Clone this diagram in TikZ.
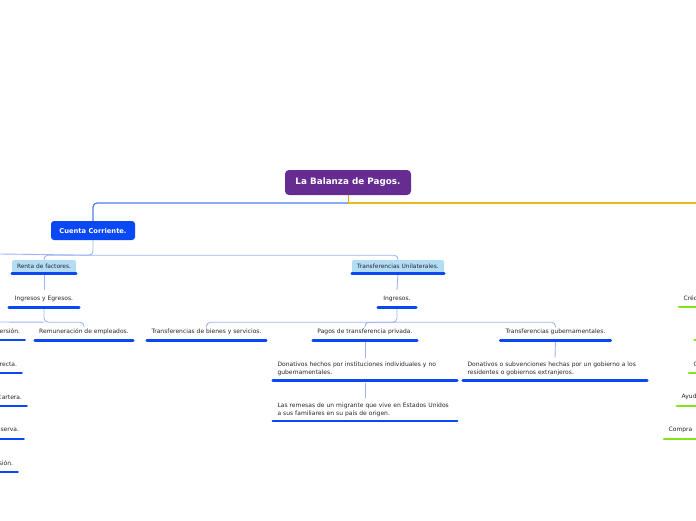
\documentclass[tikz,border=0pt]{standalone}
\usepackage{fontspec}
\setmainfont{DejaVu Sans}
\usetikzlibrary{calc}
\definecolor{rootfill}{HTML}{672C91}
\definecolor{mainfill}{HTML}{0A47F5}
\definecolor{subfill}{HTML}{B3DDF6}
\definecolor{barline}{HTML}{0A47F5}
\definecolor{linkline}{HTML}{9DB4F6}
\definecolor{toplink}{HTML}{4F7FE6}
\definecolor{stemline}{HTML}{F29A12}
\definecolor{rightlink}{HTML}{E6B91E}
\definecolor{greenbar}{HTML}{86E21A}
\definecolor{textgray}{HTML}{262626}

\begin{document}
\begin{tikzpicture}[x=1pt,y=-1pt,font=\fontsize{6}{8}\selectfont,text=textgray,
rootbox/.style={fill=rootfill,rounded corners=4pt,text=white,font=\fontsize{8.8}{10}\selectfont\bfseries,minimum width=126pt,minimum height=25pt,inner sep=0pt},
mainbox/.style={fill=mainfill,rounded corners=3pt,text=white,font=\fontsize{6.7}{8}\selectfont\bfseries,minimum width=84pt,minimum height=19pt,inner sep=0pt},
subbox/.style={fill=subfill,rounded corners=1.5pt,text=black!85,font=\fontsize{5.9}{7}\selectfont,minimum width=#1,minimum height=13pt,inner sep=0pt},
topic/.style={minimum width=#1,minimum height=17pt,inner xsep=4pt,inner ysep=0pt,align=center},
note/.style={text width=#1,inner xsep=4.5pt,inner ysep=4.4pt,align=left},
cutleft/.style={anchor=south east,text width=60pt,align=right,inner xsep=4.5pt,inner ysep=0pt,minimum height=17pt},
cutright/.style={anchor=south west,text width=60pt,align=left,inner xsep=4.5pt,inner ysep=0pt,minimum height=17pt},
bar/.style={draw=barline,line width=2.6pt,line cap=round},
gbar/.style={draw=greenbar,line width=2.6pt,line cap=round},
link/.style={draw=linkline,line width=0.9pt,rounded corners=4pt}]
\useasboundingbox (0,0) rectangle (696,520);
\clip (0,0) rectangle (696,520);
% title and first level
\node[rootbox] (root) at (348,182.5) {La Balanza de Pagos.};
\node[mainbox] (cuenta) at (93,230.5) {Cuenta Corriente.};
\coordinate (hub) at (348,203);
\coordinate (rightend) at (696,203);
\draw[draw=stemline,line width=1pt] (root.south) -- (hub);
\draw[draw=toplink,line width=1.2pt,rounded corners=4pt] (hub) -| (cuenta.north);
\draw[draw=rightlink,line width=1.4pt] (hub) -- (rightend);
% cuenta corriente
\node[subbox=64pt] (renta) at (44,266.5) {Renta de factores.};
\node[subbox=92pt] (tunil) at (398,266.5) {Transferencias Unilaterales.};
\coordinate (leftend) at (0,254);
\draw[link] (cuenta.south) -- ++(0,15) coordinate (cj) -| (renta.north);
\draw[link] (cj) -| (tunil.north);
\draw[link] (cj) -- (leftend);
% renta de factores
\node[topic=70pt] (ingeg) at (44,298.5) {Ingresos y Egresos.};
\node[topic=98pt] (remun) at (84,331.5) {Remuneración de empleados.};
\node[cutleft] (rinv) at (24.7,340) {ersión.};
\node[cutleft] (idir) at (21.7,373) {recta.};
\node[cutleft] (icart) at (26.7,406) {cartera.};
\node[cutleft] (ares) at (23.7,439) {serva.};
\node[cutleft] (oinv) at (17.7,472) {sión.};
\coordinate (leftend2) at (0,322);
\draw[link] (renta.south) -- (ingeg.north);
\draw[link] (ingeg.south) -- ++(0,15) coordinate (ij) -| ([yshift=-4pt]remun.north);
\draw[link] (ij) -- (leftend2);
% transferencias unilaterales
\node[topic=38pt] (ingr) at (397,298.5) {Ingresos.};
\node[topic=119pt] (tbs) at (206.5,331.5) {Transferencias de bienes y servicios.};
\node[topic=104pt] (pagos) at (365,331.5) {Pagos de transferencia privada.};
\node[topic=110pt] (tgub) at (555.5,331.5) {Transferencias gubernamentales.};
\node[note=175pt,anchor=south] (donat) at (365,380.5) {Donativos hechos por instituciones individuales y no\\gubernamentales.};
\node[note=175pt,anchor=south] (remesa) at (365,421) {Las remesas de un migrante que vive en Estados Unidos\\a sus familiares en su país de origen.};
\node[note=175pt,anchor=south] (dsub) at (555,380.5) {Donativos o subvenciones hechas por un gobierno a los\\residentes o gobiernos extranjeros.};
\draw[link] (tunil.south) -- (ingr.north);
\draw[link] (ingr.south) -- ++(0,15) coordinate (gj) -| ([yshift=-3pt]tbs.north);
\draw[link] (gj) -| ([yshift=-3pt]tgub.north);
\draw[link] (gj) -| ([yshift=-3pt]pagos.north);
\draw[link,shorten <=2pt] (pagos.south) -- (donat.north);
\draw[link,shorten <=2pt] (donat.south) -- (remesa.north);
\draw[link,shorten <=2pt] (tgub.south) -- (dsub.north);
% right branch, cut at the edge
\node[cutright] (cred) at (679,307) {Créd};
\node[cutright] (cx) at (689,373) {C};
\node[cutright] (ayud) at (677,406) {Ayud};
\node[cutright] (compra) at (664,439) {Compra};
\draw[gbar] (694.5,340) -- (697,340);
% underlines
\foreach \n in {renta,tunil,ingeg,remun,rinv,idir,icart,ares,oinv,ingr,tbs,pagos,tgub,donat,remesa,dsub}
  \draw[bar] (\n.south west) -- (\n.south east);
\foreach \n in {cred,cx,ayud,compra}
  \draw[gbar] (\n.south west) -- (\n.south east);
\end{tikzpicture}
\end{document}
